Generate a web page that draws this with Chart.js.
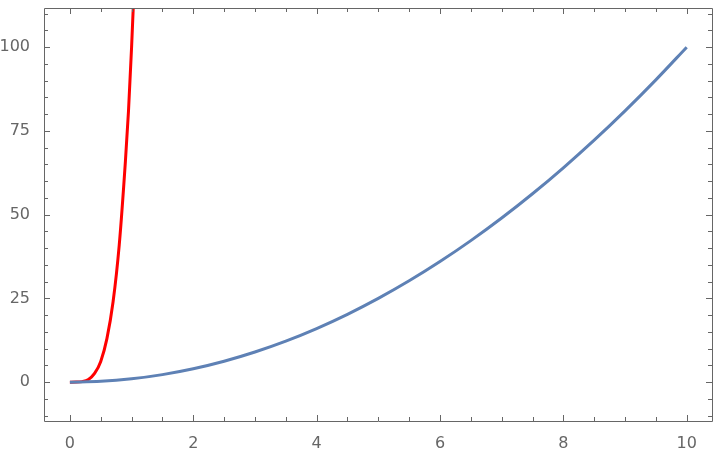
<!DOCTYPE html>
<html>
<head>
<meta charset="utf-8">
<script src="https://cdn.jsdelivr.net/npm/chart.js@4.4.0/dist/chart.umd.min.js"></script>
<style>
html,body{margin:0;padding:0;background:#fff;}
#wrap{width:720px;height:452px;}
</style>
</head>
<body>
<div id="wrap"><canvas id="c" width="720" height="452"></canvas></div>
<script>
// Blue curve values
const blueX = [0,0.5,1,1.5,2,2.5,3,3.5,4,4.5,5,5.5,6,6.5,7,7.5,8,8.5,9,9.5,10];
const blueY = [0,0.25,1,2.25,4,6.25,9,12.25,16,20.25,25,30.25,36,42.25,49,56.25,64,72.25,81,90.25,100];
// Red curve values
const redX = [0,0.1,0.2,0.3,0.4,0.5,0.6,0.7,0.8,0.9,0.95,1.0,1.05];
const redY = [0,0.01,0.16,0.8,2.6,6.2,13,24,41,66,81,100,122];
// Tick values
const xMajor = [0,2,4,6,8,10];
const xMinor = [0.5,1,1.5,2.5,3,3.5,4.5,5,5.5,6.5,7,7.5,8.5,9,9.5];
const yMajor = [0,25,50,75,100];
const yMinor = [-10,-5,5,10,15,20,30,35,40,45,55,60,65,70,80,85,90,95,105,110];

const toPts = (xs, ys) => xs.map((x,i)=>({x:x,y:ys[i]}));
const AXIS = '#666666';

const framePlugin = {
  id:'frame',
  afterDatasetsDraw(chart){
    const {ctx, chartArea:a, scales} = chart;
    const xs = scales.x, ys = scales.y;
    ctx.save();
    ctx.strokeStyle = AXIS;
    ctx.lineWidth = 1;
    ctx.beginPath();
    ctx.rect(Math.round(a.left)+0.5, Math.round(a.top)+0.5, Math.round(a.right-a.left), Math.round(a.bottom-a.top));
    ctx.stroke();
    const drawX = (v,len)=>{
      const p = Math.round(xs.getPixelForValue(v))+0.5;
      ctx.moveTo(p,a.bottom); ctx.lineTo(p,a.bottom-len);
      ctx.moveTo(p,a.top); ctx.lineTo(p,a.top+len);
    };
    const drawY = (v,len)=>{
      const p = Math.round(ys.getPixelForValue(v))+0.5;
      if (p < a.top || p > a.bottom) return;
      ctx.moveTo(a.left,p); ctx.lineTo(a.left+len,p);
      ctx.moveTo(a.right,p); ctx.lineTo(a.right-len,p);
    };
    ctx.beginPath();
    xMajor.forEach(v=>drawX(v,6));
    xMinor.forEach(v=>drawX(v,4));
    yMajor.forEach(v=>drawY(v,6));
    yMinor.forEach(v=>drawY(v,4));
    ctx.stroke();
    ctx.restore();
  }
};

new Chart(document.getElementById('c'), {
  type:'scatter',
  data:{
    datasets:[
      {data:toPts(blueX,blueY), showLine:true, borderColor:'#5E81B5', borderWidth:3, pointRadius:0, cubicInterpolationMode:'monotone', fill:false},
      {data:toPts(redX,redY), showLine:true, borderColor:'#FF0000', borderWidth:3, pointRadius:0, cubicInterpolationMode:'monotone', fill:false}
    ]
  },
  options:{
    responsive:false,
    animation:false,
    events:[],
    layout:{padding:{top:8,right:8,left:0,bottom:0}},
    plugins:{legend:{display:false},tooltip:{enabled:false}},
    scales:{
      x:{
        type:'linear', min:-0.42, max:10.41,
        grid:{display:false}, border:{display:false},
        afterBuildTicks:(s)=>{s.ticks = xMajor.map(v=>({value:v}));},
        afterFit:(s)=>{s.height = 31; s.paddingLeft = 0; s.paddingRight = 0;},
        ticks:{color:AXIS, padding:5, font:{family:'DejaVu Sans', size:16}, maxRotation:0, autoSkip:false, callback:(v)=>String(v)}
      },
      y:{
        type:'linear', min:-11.6, max:111.7,
        grid:{display:false}, border:{display:false},
        afterBuildTicks:(s)=>{s.ticks = yMajor.map(v=>({value:v}));},
        afterFit:(s)=>{s.width = 44; s.paddingTop = 0; s.paddingBottom = 0;},
        ticks:{color:AXIS, padding:6, font:{family:'DejaVu Sans', size:16}, autoSkip:false, callback:(v)=>String(v)}
      }
    }
  },
  plugins:[framePlugin]
});
</script>
</body>
</html>
